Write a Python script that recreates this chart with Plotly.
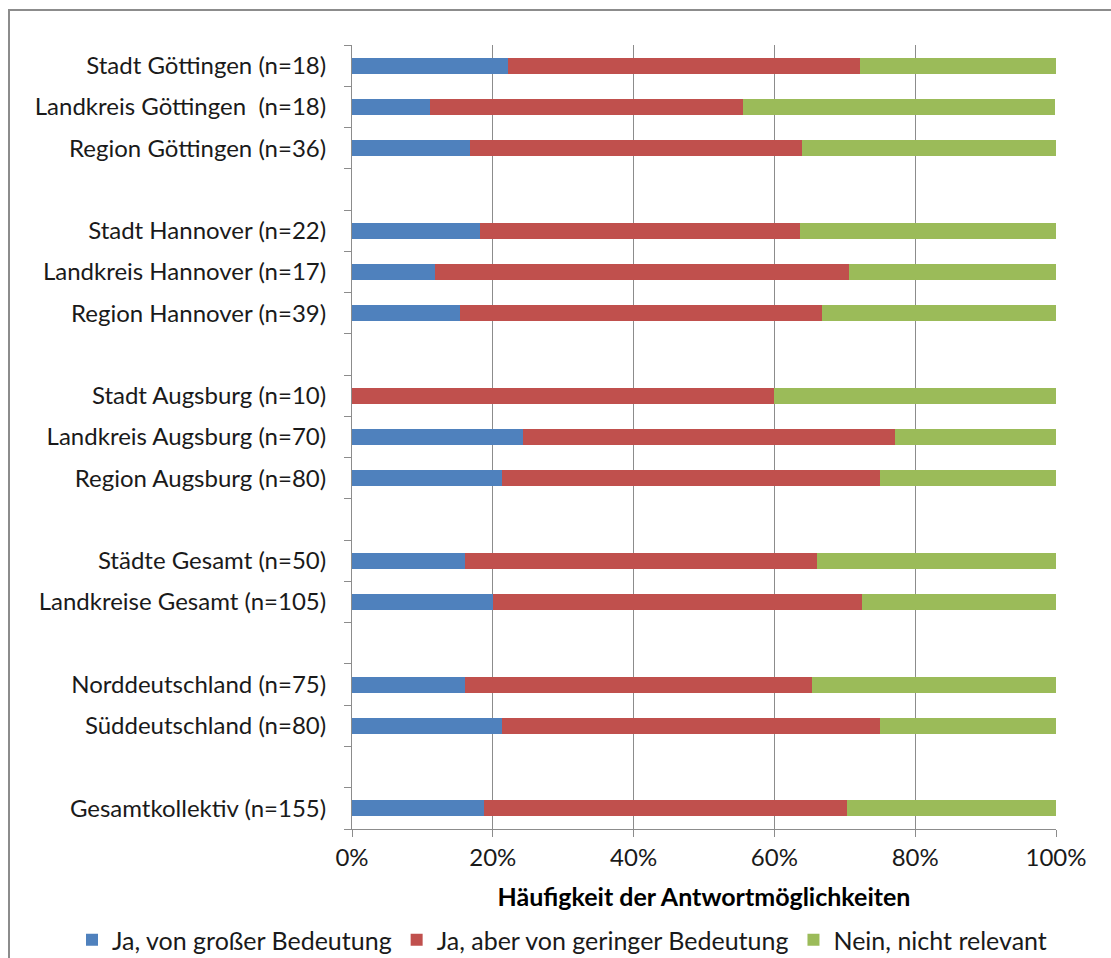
import plotly.graph_objects as go

# Row labels top to bottom; empty strings are spacer rows between groups
categories = [
    "Stadt Göttingen (n=18)",
    "Landkreis Göttingen  (n=18)",
    "Region Göttingen (n=36)",
    "",
    "Stadt Hannover (n=22)",
    "Landkreis Hannover (n=17)",
    "Region Hannover (n=39)",
    "",
    "Stadt Augsburg (n=10)",
    "Landkreis Augsburg (n=70)",
    "Region Augsburg (n=80)",
    "",
    "Städte Gesamt (n=50)",
    "Landkreise Gesamt (n=105)",
    "",
    "Norddeutschland (n=75)",
    "Süddeutschland (n=80)",
    "",
    "Gesamtkollektiv (n=155)",
]

# Shares in percent (None for spacer rows)
ja_gross = [22.2, 11.1, 16.7, None, 18.2, 11.8, 15.4, None, 0.0, 24.3, 21.25, None,
            16.0, 20.0, None, 16.0, 21.25, None, 18.7]
ja_gering = [50.0, 44.4, 47.2, None, 45.5, 58.8, 51.3, None, 60.0, 52.9, 53.75, None,
             50.0, 52.4, None, 49.3, 53.75, None, 51.6]
nein = [27.8, 44.4, 36.1, None, 36.4, 29.4, 33.3, None, 40.0, 22.9, 25.0, None,
        34.0, 27.6, None, 34.7, 25.0, None, 29.7]

series_names = ["Ja, von großer Bedeutung", "Ja, aber von geringer Bedeutung", "Nein, nicht relevant"]
series_colors = ["#4F81BD", "#C0504D", "#9BBB59"]

x_ticks = [0, 20, 40, 60, 80, 100]
x_ticktext = ["0%", "20%", "40%", "60%", "80%", "100%"]

rows = list(range(len(categories)))
FONT = "Lato"
FS = 24

fig = go.Figure()
for name, vals, color in zip(series_names, [ja_gross, ja_gering, nein], series_colors):
    fig.add_trace(go.Bar(
        y=rows, x=vals, name=name, orientation="h",
        marker=dict(color=color, line=dict(width=0)),
        width=0.39,
    ))

fig.update_layout(
    barmode="stack",
    width=1111, height=958,
    margin=dict(l=352, r=55, t=45, b=129, autoexpand=False),
    paper_bgcolor="white", plot_bgcolor="white",
    font=dict(family=FONT, size=FS, color="#1a1a1a"),
    showlegend=True,
    legend=dict(
        orientation="h", xref="paper", x=(72 - 352) / 704, xanchor="left",
        yref="paper", y=-(940 - 829) / 784, yanchor="middle",
        font=dict(size=25), traceorder="normal",
        itemwidth=30, bgcolor="rgba(0,0,0,0)",
    ),
    xaxis=dict(
        range=[0, 100], tickvals=x_ticks, ticktext=x_ticktext,
        showgrid=True, gridcolor="#8c8c8c", gridwidth=1,
        showline=True, linecolor="#8c8c8c", linewidth=1,
        ticks="outside", ticklen=7, tickcolor="#8c8c8c",
        zeroline=False, tickfont=dict(size=FS), automargin=True,
        title=dict(text="<b>Häufigkeit der Antwortmöglichkeiten</b>",
                   font=dict(size=25, color="#000"), standoff=18),
    ),
    yaxis=dict(
        range=[len(categories) - 0.5, -0.5],
        tickvals=rows, ticktext=categories,
        showgrid=False, zeroline=False,
        showline=True, linecolor="#8c8c8c", linewidth=1,
        ticks="", ticklabelstandoff=20, tickfont=dict(size=FS), automargin=False,
    ),
    # second axis carries only the boundary tick marks
    yaxis2=dict(
        overlaying="y", anchor="x", side="left",
        range=[len(categories) - 0.5, -0.5],
        tickvals=[r - 0.5 for r in rows] + [len(categories) - 0.5],
        ticktext=[""] * (len(categories) + 1),
        showgrid=False, zeroline=False, showline=False, automargin=False,
        ticks="outside", ticklen=7, tickcolor="#8c8c8c",
    ),
)

# Spacer trace to activate the tick-only axis
fig.add_trace(go.Scatter(x=[None], y=[None], yaxis="y2", showlegend=False, hoverinfo="skip"))

# Chart frame
fig.add_shape(type="rect", xref="paper", yref="paper",
              x0=(9 - 352) / 704, x1=1.2, y0=-0.3, y1=1 + 35 / 784,
              line=dict(color="#8c8c8c", width=2), fillcolor="rgba(0,0,0,0)", layer="below")

fig.write_html("out.html")
